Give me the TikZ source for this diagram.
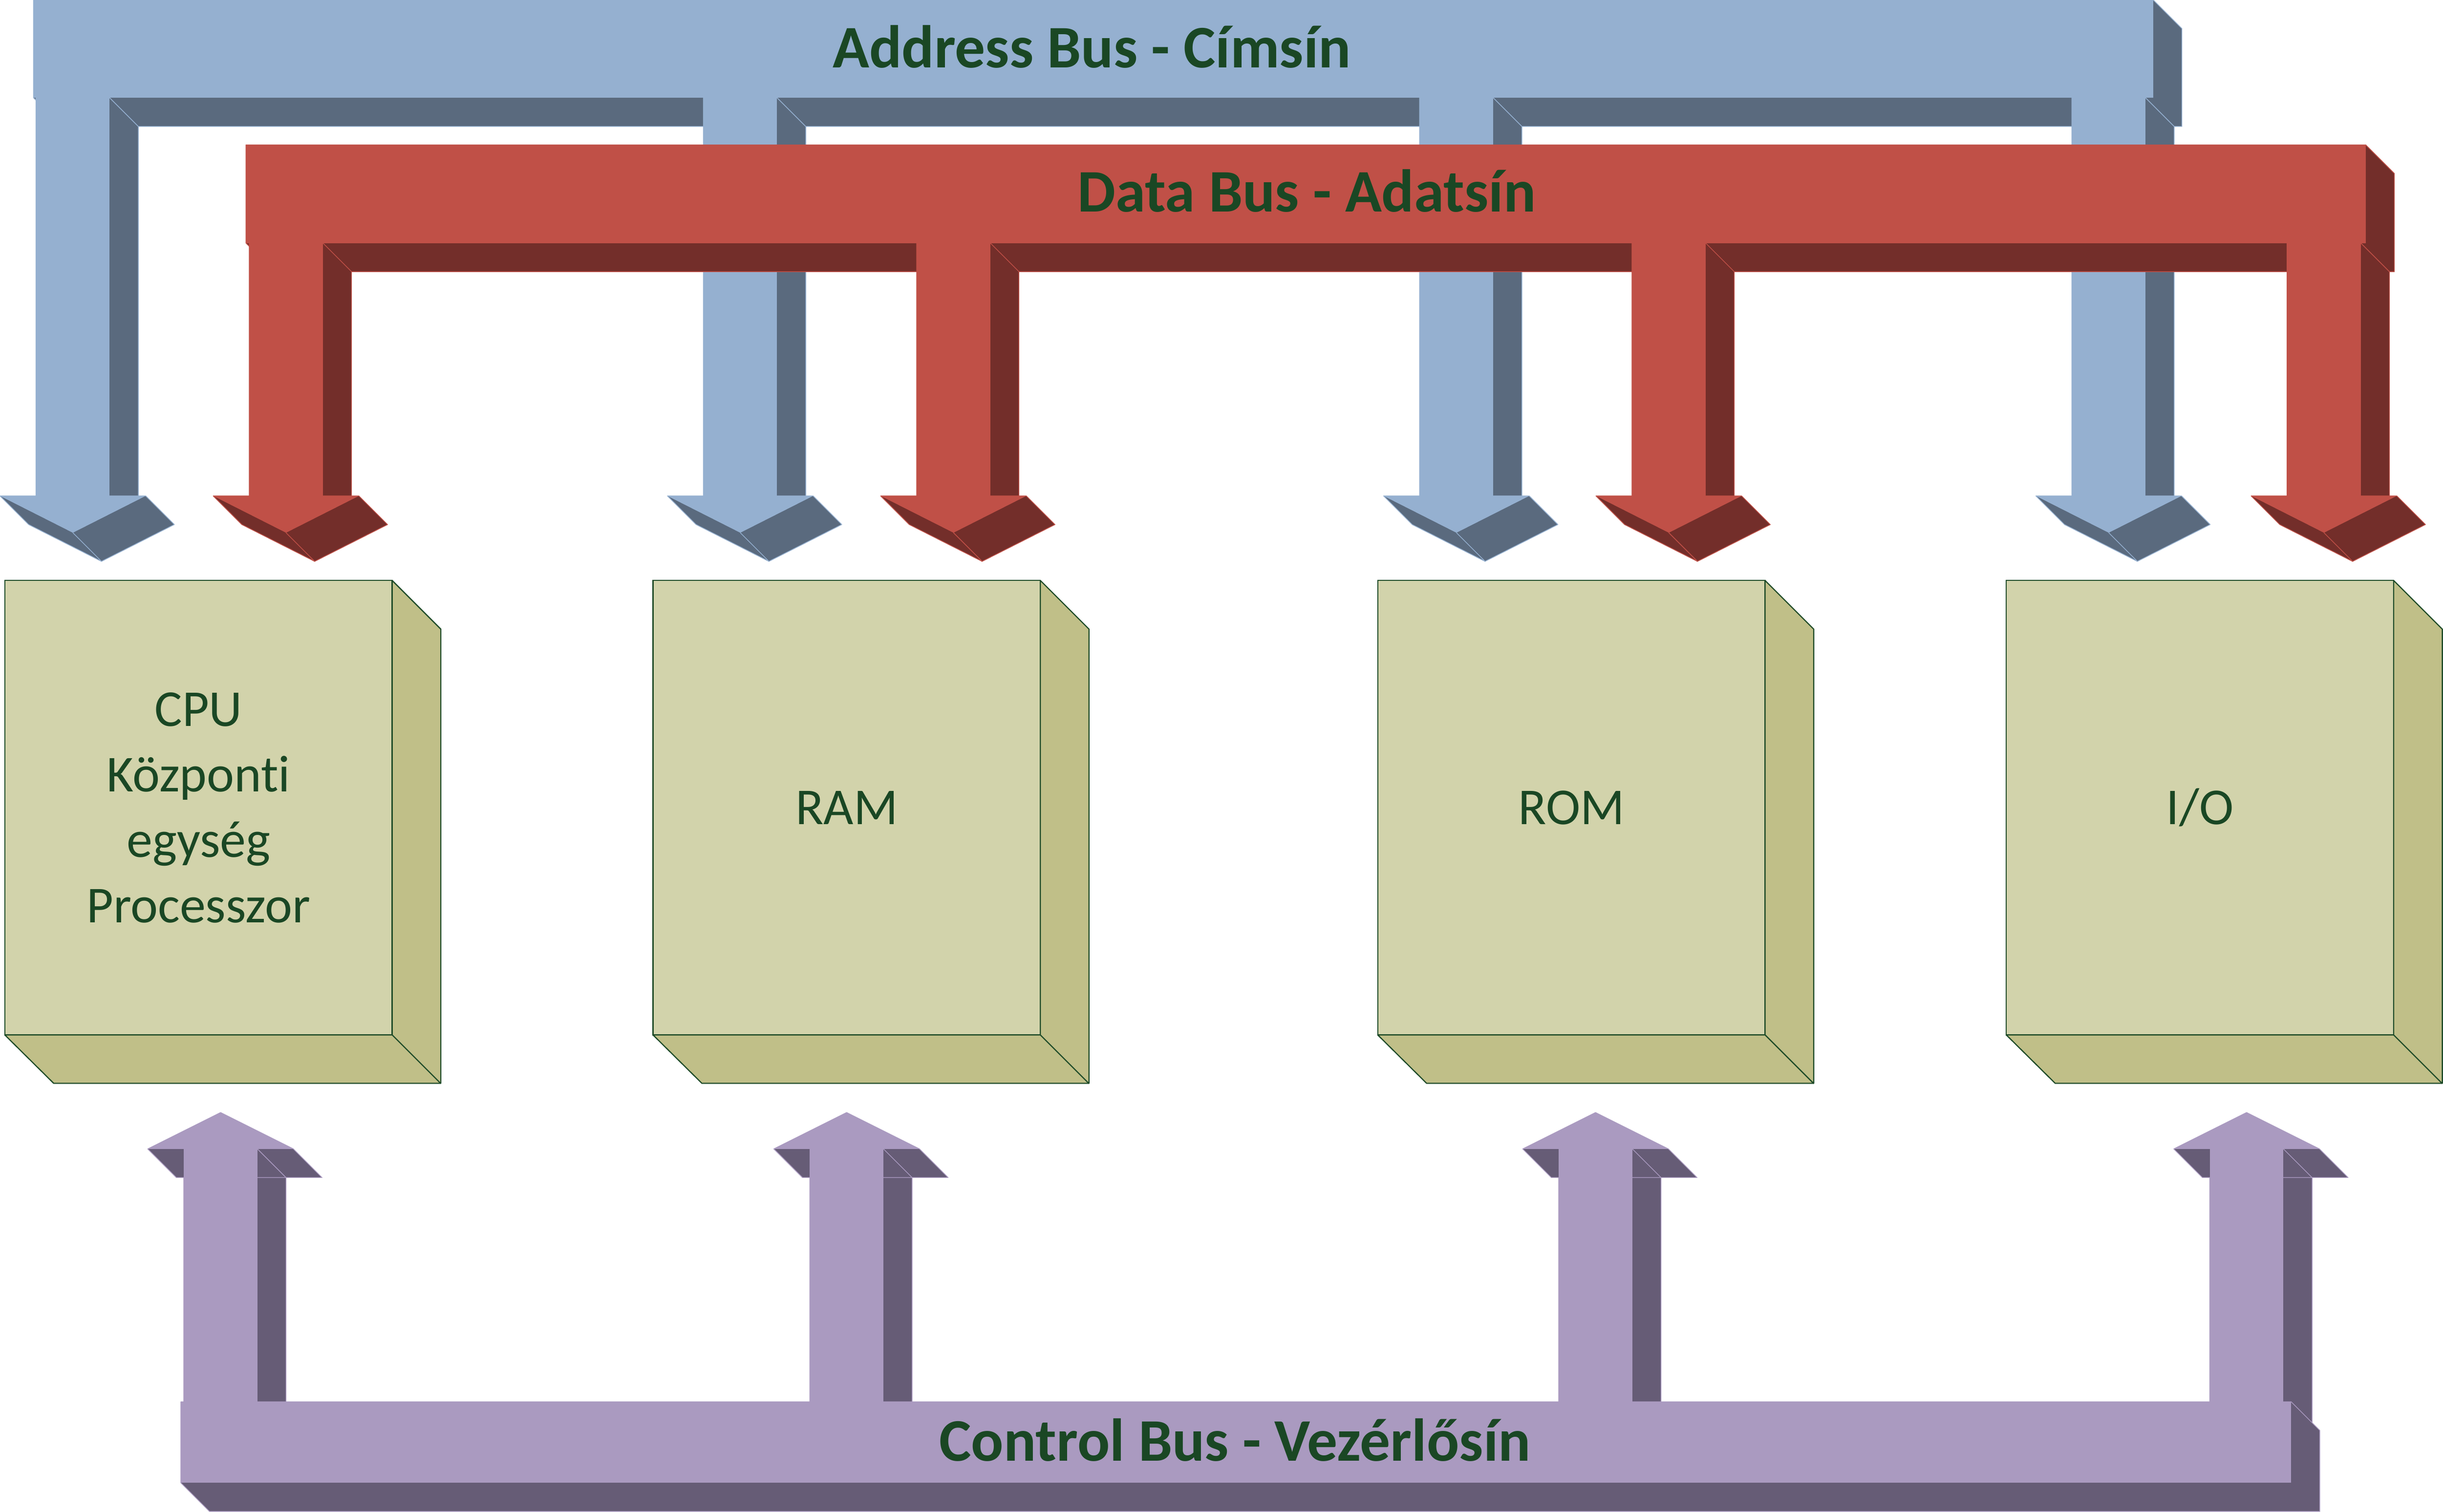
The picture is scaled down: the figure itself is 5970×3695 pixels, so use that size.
\documentclass[tikz,border=0pt]{standalone}
\usepackage{fontspec}
\setmainfont{Carlito}[Ligatures=NoCommon]
\usetikzlibrary{positioning}

\definecolor{addrfront}{RGB}{149,176,208}
\definecolor{addrside}{RGB}{90,106,126}
\definecolor{datafront}{RGB}{192,80,71}
\definecolor{dataside}{RGB}{115,46,42}
\definecolor{ctrlfront}{RGB}{170,154,192}
\definecolor{ctrlside}{RGB}{102,92,118}
\definecolor{boxfront}{RGB}{210,211,171}
\definecolor{boxside}{RGB}{192,191,136}
\definecolor{boxline}{RGB}{30,75,40}
\definecolor{txtgreen}{RGB}{26,71,36}

\begin{document}
\begin{tikzpicture}[x=0.01cm,y=-0.01cm,
	unitbox/.style={draw=boxline, line width=0.8pt, fill=boxfront, inner sep=0pt, outer sep=0pt,
		minimum width=9.46cm, minimum height=11.1cm, align=center, text=txtgreen,
		font=\fontsize{36}{45.5}\selectfont},
	boxface/.style={draw=boxline, line width=0.8pt, fill=boxside, line join=round},
	busname/.style={anchor=base, text=txtgreen, font=\fontsize{42}{50}\selectfont\bfseries},
	edgeline/.style={line width=0.5pt, line join=round}]
	
	\useasboundingbox (0,0) rectangle (5970,3695);
	
	% address bus
	\filldraw[fill=addrside, draw=addrfront, edgeline] (82,0) -- (5262,0) -- (5332,70) -- (5332,309) -- (152,309) -- (82,239) -- cycle;
	\foreach \cx in {178,1809,3559,5153} {
		\filldraw[fill=addrside, draw=addrfront, edgeline] (\cx-90,239) -- (\cx+90,239) -- (\cx+160,309) -- (\cx+160,1282) -- (\cx-20,1282) -- (\cx-90,1212) -- cycle;
		\filldraw[fill=addrside, draw=addrfront, edgeline] (\cx-178,1212) -- (\cx-108,1282) -- (\cx+70,1372) -- (\cx+248,1282) -- (\cx+178,1212) -- cycle;
		\draw[addrfront, edgeline] (\cx,1302) -- (\cx+70,1372);
	}
	\fill[addrfront] (82,0) rectangle (5262,239);
	\foreach \cx in {178,1809,3559,5153} {
		\fill[addrfront] (\cx-90,230) rectangle (\cx+90,1213);
		\fill[addrfront] (\cx-178,1212) -- (\cx+178,1212) -- (\cx,1302) -- cycle;
	}
	\node (addrlabel) [busname] at (2668,165) {Address Bus - Címsín};
	
	% data bus
	\filldraw[fill=dataside, draw=datafront, edgeline] (601,354) -- (5781,354) -- (5851,424) -- (5851,664) -- (671,664) -- (601,594) -- cycle;
	\foreach \cx in {699,2330,4078,5679} {
		\filldraw[fill=dataside, draw=datafront, edgeline] (\cx-90,594) -- (\cx+90,594) -- (\cx+160,664) -- (\cx+160,1282) -- (\cx-20,1282) -- (\cx-90,1212) -- cycle;
		\filldraw[fill=dataside, draw=datafront, edgeline] (\cx-178,1212) -- (\cx-108,1282) -- (\cx+70,1372) -- (\cx+248,1282) -- (\cx+178,1212) -- cycle;
		\draw[datafront, edgeline] (\cx,1302) -- (\cx+70,1372);
	}
	\fill[datafront] (601,354) rectangle (5781,594);
	\foreach \cx in {699,2330,4078,5679} {
		\fill[datafront] (\cx-90,585) rectangle (\cx+90,1213);
		\fill[datafront] (\cx-178,1212) -- (\cx+178,1212) -- (\cx,1302) -- cycle;
	}
	\node (datalabel) [busname] at (3193,518) {Data Bus - Adatsín};
	
	% control bus
	\foreach \cx in {539,2069,3899,5490} {
		\filldraw[fill=ctrlside, draw=ctrlfront, edgeline] (\cx-90,2808) -- (\cx+90,2808) -- (\cx+160,2878) -- (\cx+160,3496) -- (\cx-20,3496) -- (\cx-90,3426) -- cycle;
		\filldraw[fill=ctrlside, draw=ctrlfront, edgeline] (\cx-178,2808) -- (\cx,2719) -- (\cx+178,2808) -- (\cx+248,2878) -- (\cx-108,2878) -- cycle;
		\draw[ctrlfront, edgeline] (\cx+90,2808) -- (\cx+160,2878);
	}
	\filldraw[fill=ctrlside, draw=ctrlfront, edgeline] (442,3426) -- (5599,3426) -- (5669,3496) -- (5669,3694) -- (512,3694) -- (442,3624) -- cycle;
	\fill[ctrlfront] (442,3426) rectangle (5599,3624);
	\foreach \cx in {539,2069,3899,5490} {
		\fill[ctrlfront] (\cx-90,2807) rectangle (\cx+90,3430);
		\fill[ctrlfront] (\cx-178,2808) -- (\cx,2719) -- (\cx+178,2808) -- cycle;
	}
	\node (ctrllabel) [busname] at (3018,3571) {Control Bus - Vezérlősín};
	
	% units
	\node (cpu) [unitbox] at (485,1974) {CPU\\Központi\\egység\\Processzor};
	\node (ram) [unitbox] at (2069,1974) {RAM};
	\node (rom) [unitbox] at (3840,1974) {ROM};
	\node (io) [unitbox] at (5376,1974) {I/O};
	
	\foreach \b in {cpu,ram,rom,io}
		\filldraw[boxface] (\b.north east) -- ++(119,119) -- ++(0,1110) -- ++(-946,0) -- (\b.south west) -- (\b.south east) -- cycle
		(\b.south east) -- ++(119,119);
	
\end{tikzpicture}
\end{document}
